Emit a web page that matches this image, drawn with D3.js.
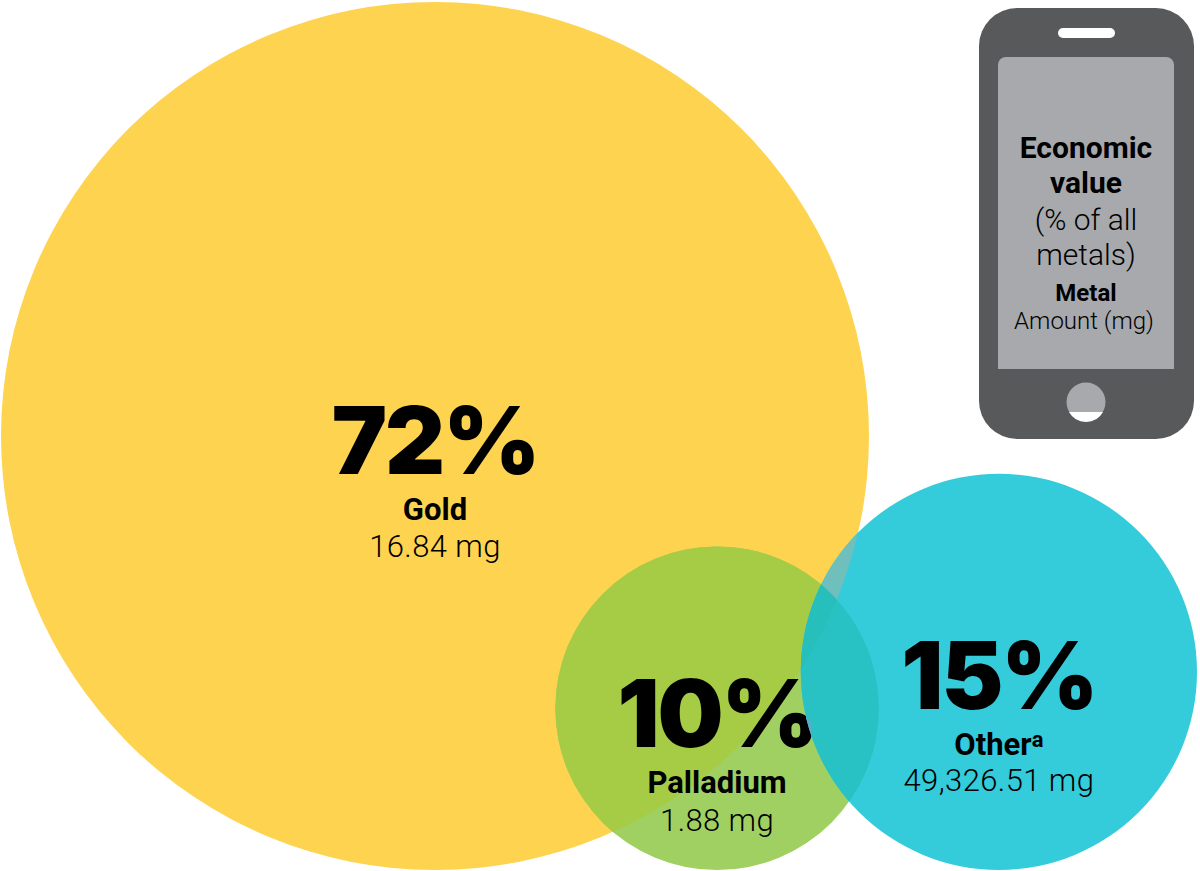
<!DOCTYPE html>
<html>
<head>
<meta charset="utf-8">
<script src="https://cdn.jsdelivr.net/npm/d3@7"></script>
<style>
  html, body { margin: 0; padding: 0; background: #fff; }
  svg { display: block; }
  text { font-family: Roboto, sans-serif; fill: #000; text-anchor: middle; }
  .pct { font-family: Inter, Roboto, sans-serif; font-weight: 900; letter-spacing: -2px; }
  .name { font-weight: 700; }
  .amount { font-weight: 300; letter-spacing: 0.4px; }
  .key { font-weight: 300; }
</style>
</head>
<body>
<div id="chart"></div>
<script>
// Economic value of the metals in a phone
const metals = ["Gold", "Palladium", "Other"];
const shares = [72, 10, 15];
const amounts = ["16.84 mg", "1.88 mg", "49,326.51 mg"];

const width = 1200, height = 871;

const svg = d3.select("#chart").append("svg")
  .attr("width", width)
  .attr("height", height);

// circle area follows the share
const radius = d3.scaleSqrt().domain([0, 72]).range([0, 434]);

// layout: gold sits top left, the other two stand on the bottom edge
const rGold = radius(shares[0]), rPall = radius(shares[1]), rOther = radius(shares[2]);
const floorY = 870;
const nodes = [
  { cx: 1 + rGold, cy: 2 + rGold, r: rGold },
  { cx: 1 + rGold * 1.65, cy: floorY - rPall, r: rPall },
  { cx: 1197 - rOther, cy: floorY - rOther, r: rOther }
];
const [gold, pall, other] = nodes;

const defs = svg.append("defs");
function clip(id, n) {
  defs.append("clipPath").attr("id", id).append("circle")
    .attr("cx", n.cx).attr("cy", n.cy).attr("r", n.r);
}
clip("clip-gold", gold);
clip("clip-pall", pall);
clip("clip-other", other);

function disc(parent, n, fill) {
  return parent.append("circle")
    .attr("cx", n.cx).attr("cy", n.cy).attr("r", n.r).attr("fill", fill);
}

// base circles and the overlap tints
disc(svg, gold, "#fdd34f");
disc(svg, pall, "#a0d062");
disc(svg.append("g").attr("clip-path", "url(#clip-gold)"), pall, "#a6cb45");

// labels below the blue circle, the % of 10% runs under it
const labels = svg.append("g");
function label(i, x, yPct, sizePct, yName, sizeName, yAmt, sizeAmt) {
  labels.append("text").attr("class", "pct").attr("x", x).attr("y", yPct)
    .attr("font-size", sizePct).text(shares[i] + "%");
  labels.append("text").attr("class", "name").attr("x", x).attr("y", yName)
    .attr("font-size", sizeName).text(metals[i]);
  labels.append("text").attr("class", "amount").attr("x", x).attr("y", yAmt)
    .attr("font-size", sizeAmt).text(amounts[i]);
}
label(0, gold.cx, 474, 93, 520, 31, 557, 31);
label(1, pall.cx, 747, 93, 793, 31, 831, 31);

disc(svg, other, "#34cbdb");
const inOther = svg.append("g").attr("clip-path", "url(#clip-other)");
disc(inOther.append("g").attr("clip-path", "url(#clip-gold)"), gold, "#6fc0bd");
disc(inOther, pall, "#28c2c4");
const triple = inOther.append("g").attr("clip-path", "url(#clip-pall)");
disc(triple, gold, "#27bfbb");

// the covered end of the % still shows faintly through the blue
inOther.append("text").attr("class", "pct").attr("x", pall.cx).attr("y", 747)
  .attr("font-size", 93).attr("style", "fill:#5fa9c8").text(shares[1] + "%");

// label of the blue circle goes on top
const otherName = svg.append("text").attr("class", "name")
  .attr("x", other.cx).attr("y", 755).attr("font-size", 31).text(metals[2]);
otherName.append("tspan").attr("font-size", 22).attr("dy", -8).text("a");
svg.append("text").attr("class", "pct").attr("x", other.cx).attr("y", 709)
  .attr("font-size", 93).text(shares[2] + "%");
svg.append("text").attr("class", "amount").attr("x", other.cx).attr("y", 791)
  .attr("font-size", 31).text(amounts[2]);

// phone key
const phone = svg.append("g");
phone.append("rect").attr("x", 979).attr("y", 8).attr("width", 215).attr("height", 431)
  .attr("rx", 38).attr("fill", "#58595b");
phone.append("rect").attr("x", 1058).attr("y", 28).attr("width", 57).attr("height", 10)
  .attr("rx", 5).attr("fill", "#fff");
phone.append("path").attr("fill", "#a7a9ac")
  .attr("d", "M998 65a8 8 0 0 1 8-8H1166a8 8 0 0 1 8 8V369H998Z");
phone.append("circle").attr("cx", 1086).attr("cy", 402).attr("r", 19.5).attr("fill", "#a7a9ac");
phone.append("path").attr("fill", "#fff")
  .attr("d", "M1069 412H1103A19.5 19.5 0 0 1 1069 412Z");

const keyLines = [
  ["Economic", 1086, 158, 30, "name"],
  ["value", 1086, 193, 30, "name"],
  ["(% of all", 1086, 230, 30, "key"],
  ["metals)", 1086, 265, 30, "key"],
  ["Metal", 1086, 301, 24, "name"],
  ["Amount (mg)", 1084, 329, 24, "key"]
];
keyLines.forEach(d => {
  phone.append("text").attr("class", d[4]).attr("x", d[1]).attr("y", d[2])
    .attr("font-size", d[3]).text(d[0]);
});
</script>
</body>
</html>
